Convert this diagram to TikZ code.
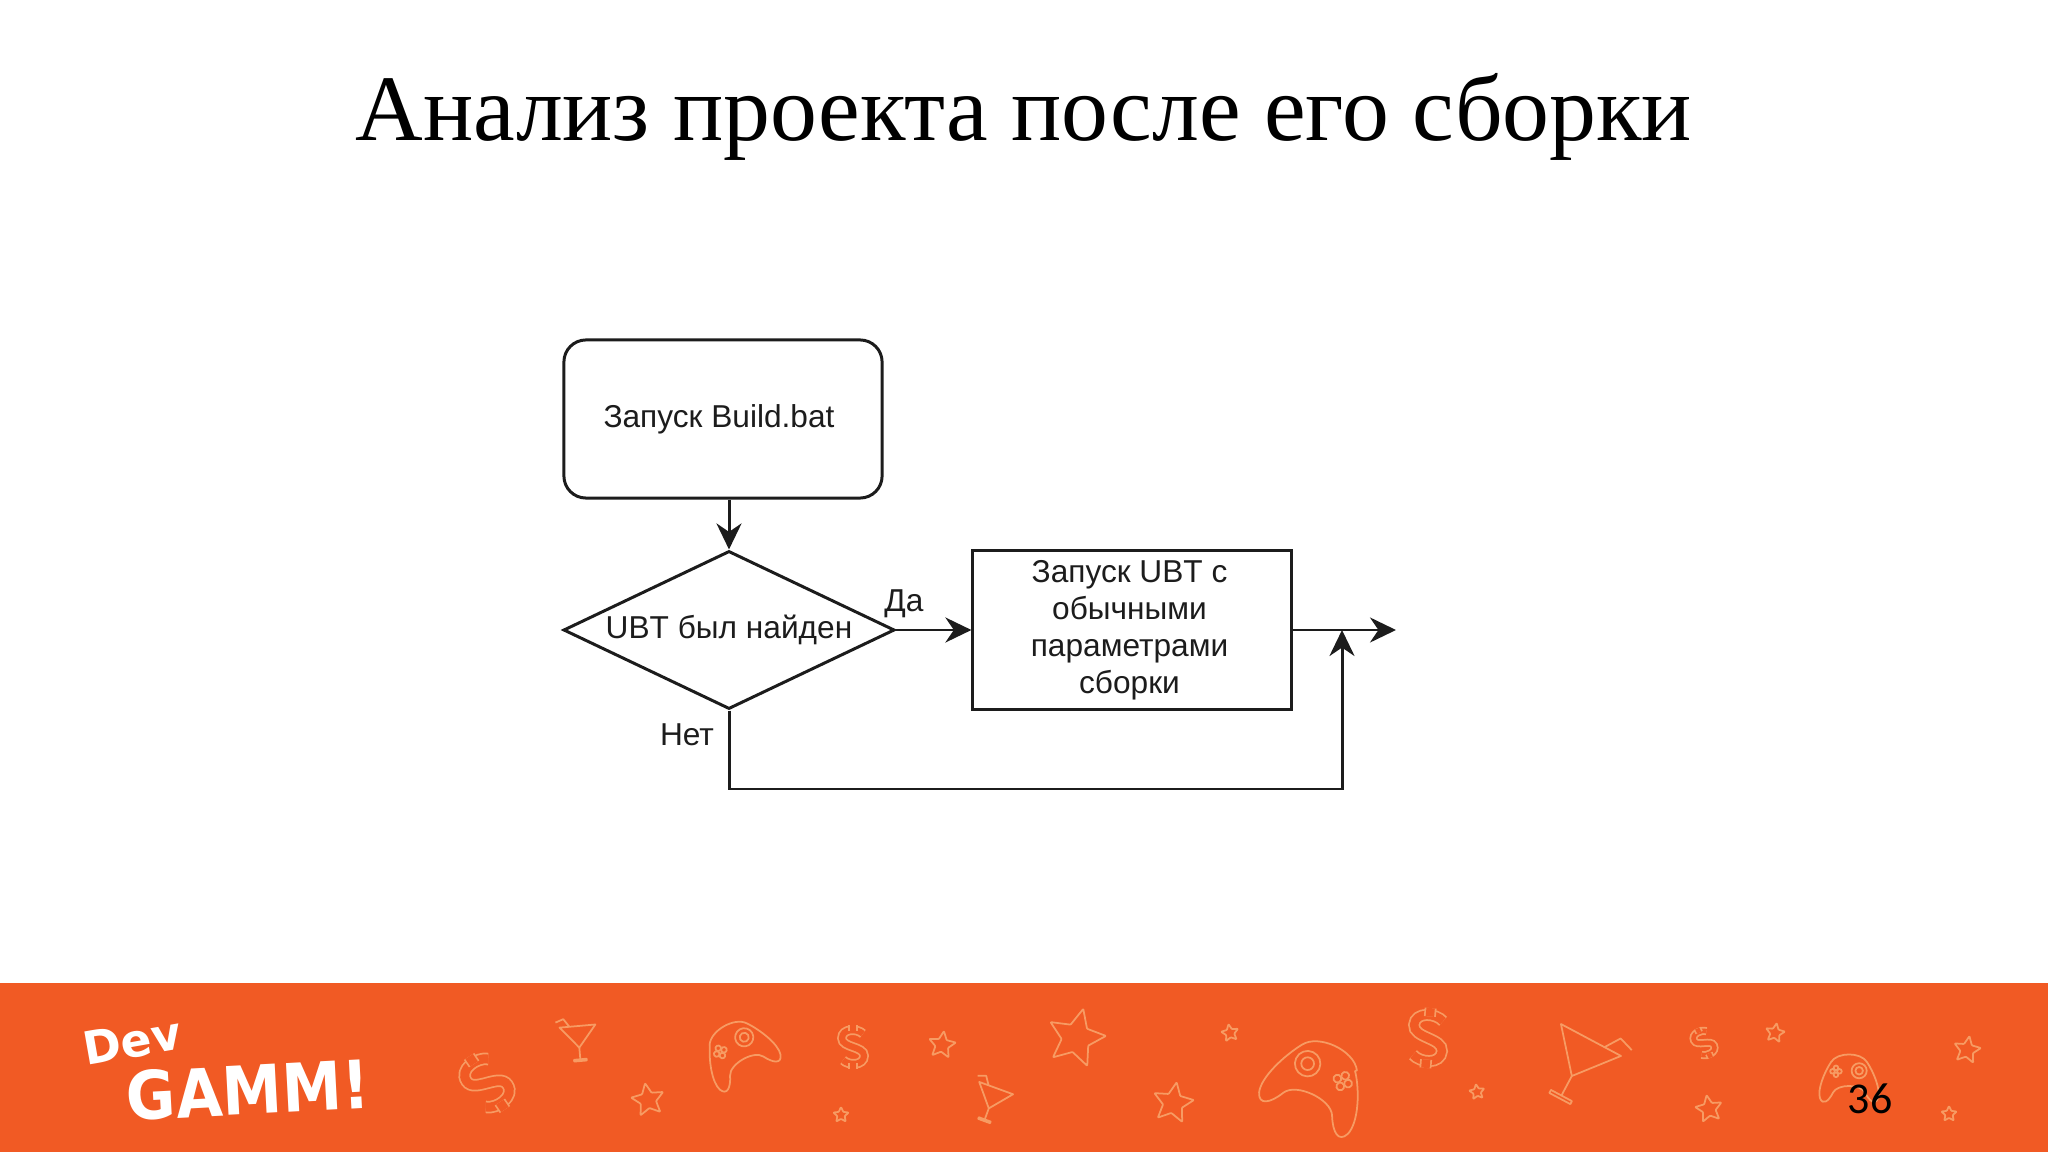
\documentclass[tikz,border=0pt]{standalone}
\usepackage{fontspec}
\setmainfont{Liberation Serif}
\newfontfamily\diagfont{Liberation Sans}
\newfontfamily\numfont{Carlito}
\newfontfamily\logofont{DejaVu Sans}
\usetikzlibrary{calc}
\usetikzlibrary{arrows.meta}
\usetikzlibrary{shapes.geometric}

\definecolor{bandorange}{HTML}{F15A24}
\definecolor{iconorange}{HTML}{F79B63}
\definecolor{flowline}{HTML}{1C1C1C}

\tikzset{
  flowtext/.style={font=\diagfont\fontsize{9}{10.5}\selectfont,text=flowline},
  flowbox/.style={draw=flowline,line width=.85pt,flowtext,inner sep=0pt,align=center,minimum width=3.18cm,minimum height=1.58cm},
  flowdiamond/.style={draw=flowline,line width=.85pt,flowtext,diamond,aspect=2.1,inner sep=0pt,minimum width=3.31cm,minimum height=1.58cm},
  flowarrow/.style={draw=flowline,line width=.85pt,-{Stealth[length=2.6mm,width=2.5mm]}},
  flowlabel/.style={flowtext,inner sep=0pt},
  iconline/.style={draw=iconorange,line width=.5pt,line join=round},
  bgstar/.pic={
    \draw[iconline,rounded corners=.2pt] (-90:1) \foreach \a/\r in {-54/.48,-18/1,18/.48,54/1,90/.48,126/1,162/.48,198/1,234/.48} {-- (\a:\r)} -- cycle;
  },
  bgglass/.pic={
    \draw[iconline] (-1,-1) -- (1,-1) -- (0,.2) -- cycle;
    \draw[iconline] (0,.2) -- (0,.85);
    \draw[iconline] (-.35,.85) rectangle (.35,.95);
    \draw[iconline] (.45,-1) -- (.75,-1.45) -- (1.2,-1.3);
  },
  bgpad/.pic={
    \draw[iconline] (-.62,-.55) .. controls (-.4,-.9) and (.4,-.9) .. (.62,-.55) .. controls (.85,-.2) and (1.1,.4) .. (1,.7) .. controls (.9,.95) and (.7,.8) .. (.55,.5) .. controls (.4,.2) and (-.4,.2) .. (-.55,.5) .. controls (-.7,.8) and (-.9,.95) .. (-1,.7) .. controls (-1.1,.4) and (-.85,-.2) .. cycle;
    \draw[iconline] (.35,-.25) circle (.26);
    \draw[iconline] (.35,-.25) circle (.13);
    \foreach \bx/\by in {-.45/-.35,-.33/-.23,-.57/-.23,-.45/-.11} {\draw[iconline] (\bx,\by) circle (.08);}
  },
}

\begin{document}
\begin{tikzpicture}[x=.01cm,y=-.01cm]

\useasboundingbox (0,0) rectangle (2048,1152);

\node[font=\fontsize{26.65}{32}\selectfont,inner sep=0pt] (title) at (1024,117) {Анализ проекта после его сборки};

\fill[bandorange] (0,983) rectangle (2048,1152);

\foreach \px/\py/\ps/\pr in {648/1100/17/10,942/1045/14/-8,841/1115/8/0,1076/1038/30/-14,1230/1033/9/10,1173/1103/21/-10,1477/1092/8/8,1775/1033/10/-10,1709/1109/14/10,1967/1050/14/-10,1949/1114/8/0} {
  \pic[rotate=\pr,scale=\ps] at (\px,\py) {bgstar};
}

\foreach \px/\py/\ps/\pr in {487/1083/32/34,853/1047/22/0,1428/1038/30/-5,1704/1043/16/25} {
  \begin{scope}[shift={(\px,\py)},rotate=\pr,scale=\ps]
    \draw[iconorange,line width=.5pt,double=bandorange,double distance={\ps*.08pt}] (.45,-.6) .. controls (.2,-.85) and (-.5,-.85) .. (-.5,-.4) .. controls (-.5,.05) and (.5,-.05) .. (.5,.4) .. controls (.5,.85) and (-.2,.85) .. (-.45,.6);
    \draw[iconorange,line width=.5pt,double=bandorange,double distance={\ps*.08pt}] (0,-.72) -- (0,-1);
    \draw[iconorange,line width=.5pt,double=bandorange,double distance={\ps*.08pt}] (0,.72) -- (0,1);
  \end{scope}
}

\pic[rotate=5,xscale=-1,scale=18] at (579,1044) {bgglass};
\pic[rotate=-20,xscale=-1,scale=18] at (990,1105) {bgglass};
\pic[rotate=-28,scale=34] at (1575,1070) {bgglass};

\pic[rotate=30,scale=35] at (738,1051) {bgpad};
\pic[rotate=-25,xscale=-1,scale=49] at (1318,1082) {bgpad};
\pic[scale=29] at (1849,1078) {bgpad};

\node[font=\logofont\bfseries\fontsize{13}{15}\selectfont,text=white,rotate=10,inner sep=0pt] (logodev) at (132,1041) {Dev};
\node[font=\logofont\bfseries\fontsize{19}{23}\selectfont,text=white,rotate=3,xscale=.9,inner sep=0pt] (logogamm) at (248,1090) {GAMM!};

\node[font=\numfont\fontsize{12.5}{15}\selectfont,text=black,inner sep=0pt] (pagenum) at (1870,1099) {36};

\node[flowbox,rounded corners=.22cm] (start) at (723,419) {\hspace*{-.08cm}Запуск Build.bat};
\node[flowdiamond] (found) at (729,630) {UBT был найден};
\node[flowbox] (ubt) at (1132,630) {\hspace*{-.05cm}Запуск UBT с\\\hspace*{-.05cm}обычными\\\hspace*{-.05cm}параметрами\\\hspace*{-.05cm}сборки};

\node[flowlabel] (yes) at (904,604) {Да};
\node[flowlabel] (no) at (687,735) {Нет};

\coordinate (merge) at (1342,630);
\coordinate (out) at (1396,630);
\coordinate (loopa) at (729,789);
\coordinate (loopb) at (1342,789);

\draw[flowarrow] (start.south -| found.north) -- (found.north);
\draw[flowarrow] (found.east) -- (ubt.west);
\draw[flowarrow] (ubt.east) -- (out);
\draw[flowarrow] (found.south) -- (loopa) -- (loopb) -- (merge);

\end{tikzpicture}
\end{document}
